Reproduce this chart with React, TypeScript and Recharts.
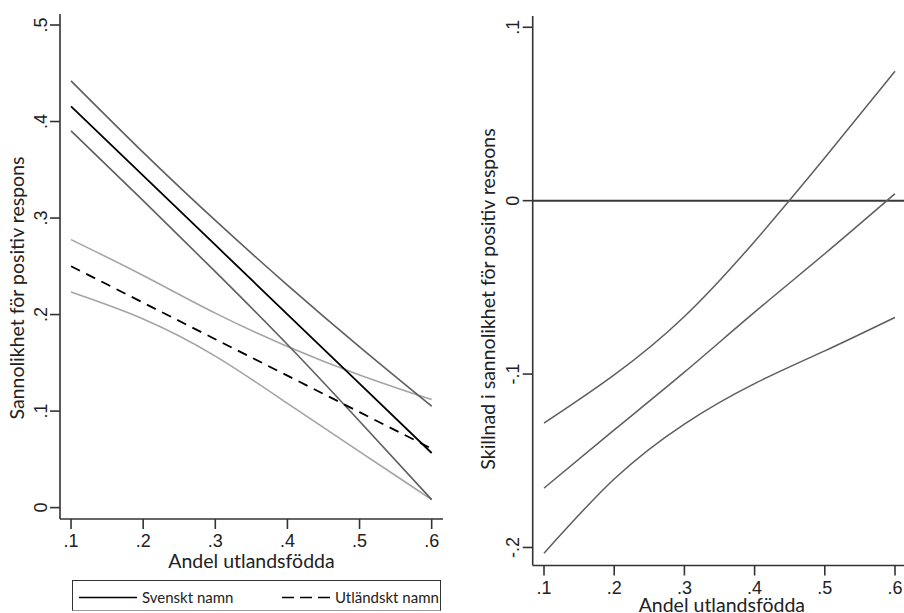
import React from "react";
import { LineChart, Line, XAxis, YAxis, ReferenceLine, Legend } from "recharts";

// andel utlandsfödda (x)
const xShare = [0.1, 0.2, 0.3, 0.4, 0.5, 0.6];
const xTicks = [0.1, 0.2, 0.3, 0.4, 0.5, 0.6];

// vänster: sannolikhet för positiv respons
const svFit = [0.4158, 0.344, 0.2721, 0.2003, 0.1284, 0.0566];
const svUpper = [0.4421, 0.368, 0.2975, 0.2305, 0.1665, 0.105];
const svLower = [0.3903, 0.318, 0.2445, 0.169, 0.0895, 0.0083];
const utFit = [0.2501, 0.2123, 0.1745, 0.1367, 0.0989, 0.0611];
const utUpper = [0.2777, 0.2405, 0.2015, 0.167, 0.1375, 0.1119];
const utLower = [0.2234, 0.1955, 0.157, 0.108, 0.058, 0.0083];
const leftYTicks = [0, 0.1, 0.2, 0.3, 0.4, 0.5];

// höger: skillnad i sannolikhet
const diffFit = [-0.1658, -0.1322, -0.0989, -0.0643, -0.0306, 0.004];
const diffUpper = [-0.1283, -0.1005, -0.0668, -0.0235, 0.0247, 0.0746];
const diffLower = [-0.2033, -0.1605, -0.1288, -0.1055, -0.0866, -0.0673];
const rightYTicks = [-0.2, -0.1, 0, 0.1];

const legendItems = [
  { name: "Svenskt namn", dash: undefined, x0: 6, len: 58 },
  { name: "Utländskt namn", dash: "12 6", x0: 209, len: 48 },
];

const leftData = xShare.map((x, i) => ({
  x,
  svFit: svFit[i],
  svUpper: svUpper[i],
  svLower: svLower[i],
  utFit: utFit[i],
  utUpper: utUpper[i],
  utLower: utLower[i],
}));

const rightData = xShare.map((x, i) => ({
  x,
  fit: diffFit[i],
  upper: diffUpper[i],
  lower: diffLower[i],
}));

const TICK_FONT = "'Liberation Sans', Arial, sans-serif";
const TITLE_FONT = "Lato, 'Open Sans', sans-serif";
const AXIS = "#333";
const DARK = "#5e5e5e";
const LIGHT = "#a4a4a4";

const fmt = (v: number) => {
  if (Math.abs(v) < 1e-9) return "0";
  return v.toFixed(1).replace("0.", ".");
};

const XTick = (props: any) => {
  const { x, y, payload } = props;
  return (
    <text x={x} y={y} dy={18} textAnchor="middle" fontSize={18} fontFamily={TICK_FONT} fill="#222">
      {fmt(payload.value)}
    </text>
  );
};

const YTick = (props: any) => {
  const { x, y, payload } = props;
  return (
    <text
      x={0}
      y={0}
      transform={`translate(${x - 3.5},${y}) rotate(-90)`}
      textAnchor="middle"
      fontSize={18}
      fontFamily={TICK_FONT}
      fill="#222"
    >
      {fmt(payload.value)}
    </text>
  );
};

const xTitle = (baseline: number) => (props: any) => {
  const vb = props.viewBox;
  return (
    <text x={vb.x + vb.width / 2} y={baseline} textAnchor="middle" fontSize={19.5} fontFamily={TITLE_FONT} fill="#222">
      Andel utlandsfödda
    </text>
  );
};

const yTitle = (text: string, baseX: number, cy: number) => () => (
  <text
    x={0}
    y={0}
    transform={`translate(${baseX},${cy}) rotate(-90)`}
    textAnchor="middle"
    fontSize={19.5}
    fontFamily={TITLE_FONT}
    fill="#222"
  >
    {text}
  </text>
);

const LegendBox = () => (
  <div
    style={{
      width: 369,
      height: 31,
      border: `1px solid ${AXIS}`,
      borderBottom: "1px solid #999",
      boxSizing: "border-box",
      background: "#fff",
    }}
  >
    <svg width={367} height={30} style={{ overflow: "visible" }}>
      {legendItems.map((item) => (
        <g key={item.name}>
          <line
            x1={item.x0}
            y1={16.5}
            x2={item.x0 + item.len}
            y2={16.5}
            stroke="#000"
            strokeWidth={1.6}
            strokeDasharray={item.dash}
          />
          <text x={item.x0 + item.len + 5} y={22} fontSize={15} fontFamily={TITLE_FONT} fill="#222">
            {item.name}
          </text>
        </g>
      ))}
    </svg>
  </div>
);

const LeftPanel = () => (
  <LineChart width={460} height={613} data={leftData} margin={{ top: 14, right: 17, bottom: 34, left: 10 }}>
    <XAxis
      dataKey="x"
      type="number"
      domain={[0.0847, 0.6157]}
      ticks={xTicks}
      tick={<XTick />}
      tickSize={10}
      tickMargin={0}
      height={60}
      stroke={AXIS}
      strokeWidth={1.6}
      allowDataOverflow
      label={{ content: xTitle(568) }}
    />
    <XAxis xAxisId="top" orientation="top" type="number" dataKey="x" domain={[0.0847, 0.6157]} tick={false} tickLine={false} height={0} stroke={AXIS} strokeWidth={1.6} allowDataOverflow />
    <YAxis
      type="number"
      domain={[-0.0118, 0.5114]}
      ticks={leftYTicks}
      tick={<YTick />}
      tickSize={10}
      tickMargin={0}
      width={50}
      stroke={AXIS}
      strokeWidth={1.6}
      allowDataOverflow
      label={{ content: yTitle("Sannolikhet för positiv respons", 24, 288) }}
    />
    <YAxis yAxisId="right" orientation="right" type="number" domain={[-0.0118, 0.5114]} tick={false} tickLine={false} width={0} stroke={AXIS} strokeWidth={1.6} allowDataOverflow />
    <Line type="natural" dataKey="utUpper" stroke={LIGHT} strokeWidth={1.6} dot={false} isAnimationActive={false} />
    <Line type="natural" dataKey="utLower" stroke={LIGHT} strokeWidth={1.6} dot={false} isAnimationActive={false} />
    <Line type="natural" dataKey="svUpper" stroke={DARK} strokeWidth={1.6} dot={false} isAnimationActive={false} />
    <Line type="natural" dataKey="svLower" stroke={DARK} strokeWidth={1.6} dot={false} isAnimationActive={false} />
    <Line type="linear" dataKey="utFit" stroke="#000" strokeWidth={1.8} strokeDasharray="10 7" dot={false} isAnimationActive={false} />
    <Line type="linear" dataKey="svFit" stroke="#000" strokeWidth={1.8} dot={false} isAnimationActive={false} />
    <Legend
      layout="horizontal"
      verticalAlign="middle"
      align="center"
      content={<LegendBox />}
      wrapperStyle={{ left: 72, top: 580, width: 369, height: 31 }}
    />
  </LineChart>
);

const RightPanel = () => (
  <LineChart width={460} height={613} data={rightData} margin={{ top: 16, right: 9, bottom: 7.5, left: 12.7 }}>
    <XAxis
      dataKey="x"
      type="number"
      domain={[0.0839, 0.6228]}
      ticks={xTicks}
      tick={<XTick />}
      tickSize={10}
      tickMargin={0}
      height={40}
      stroke={AXIS}
      strokeWidth={1.6}
      allowDataOverflow
      label={{ content: xTitle(612) }}
    />
    <XAxis xAxisId="top" orientation="top" type="number" dataKey="x" domain={[0.0839, 0.6228]} tick={false} tickLine={false} height={0} stroke={AXIS} strokeWidth={1.6} allowDataOverflow />
    <YAxis
      type="number"
      domain={[-0.2104, 0.1065]}
      ticks={rightYTicks}
      tick={<YTick />}
      tickSize={10}
      tickMargin={0}
      width={60}
      stroke={AXIS}
      strokeWidth={1.6}
      allowDataOverflow
      label={{ content: yTitle("Skillnad i sannolikhet för positiv respons", 35, 299) }}
    />
    <YAxis yAxisId="right" orientation="right" type="number" domain={[-0.2104, 0.1065]} tick={false} tickLine={false} width={0} stroke={AXIS} strokeWidth={1.6} allowDataOverflow />
    <ReferenceLine y={0} stroke="#3a3a3a" strokeWidth={2} />
    <Line type="natural" dataKey="upper" stroke={DARK} strokeWidth={1.5} dot={false} isAnimationActive={false} />
    <Line type="natural" dataKey="fit" stroke={DARK} strokeWidth={1.5} dot={false} isAnimationActive={false} />
    <Line type="natural" dataKey="lower" stroke={DARK} strokeWidth={1.5} dot={false} isAnimationActive={false} />
  </LineChart>
);

export default function App() {
  return (
    <div
      style={{
        position: "absolute",
        left: 0,
        top: 0,
        width: 904,
        height: 613,
        overflow: "hidden",
        background: "#fff",
      }}
    >
      <div style={{ position: "absolute", left: 0, top: 0 }}>
        <LeftPanel />
      </div>
      <div style={{ position: "absolute", left: 460, top: 0 }}>
        <RightPanel />
      </div>
    </div>
  );
}
